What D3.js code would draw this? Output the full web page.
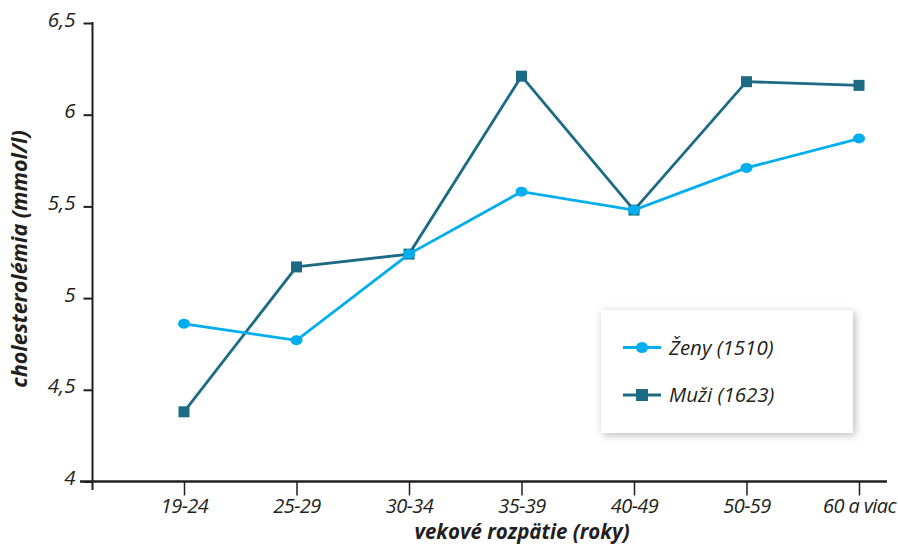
<!DOCTYPE html>
<html><head><meta charset="utf-8">
<script src="https://cdn.jsdelivr.net/npm/d3@7/dist/d3.min.js"></script>
<style>
html,body{margin:0;padding:0;background:#fff;}
text{font-family:"Open Sans",sans-serif;font-style:italic;fill:#231f20;}
</style></head>
<body><svg id="c" width="898" height="544"></svg>
<script>
const categories = ["19-24","25-29","30-34","35-39","40-49","50-59","60 a viac"];
const zeny = [4.86, 4.77, 5.24, 5.58, 5.48, 5.71, 5.87];
const muzi = [4.38, 5.17, 5.24, 6.21, 5.48, 6.18, 6.16];
const yTicks = [4, 4.5, 5, 5.5, 6, 6.5];
const seriesNames = ["Ženy (1510)", "Muži (1623)"];
const colors = ["#00aeef", "#1d6a84"];

const svg = d3.select("#c");
const x = d3.scalePoint().domain(categories).range([184, 859]);
const y = d3.scaleLinear().domain([4, 6.5]).range([481.5, 23]);
const fmt = d => String(d).replace(".", ",");

const defs = svg.append("defs");
const f = defs.append("filter").attr("id","sh").attr("x","-20%").attr("y","-20%").attr("width","140%").attr("height","140%");
f.append("feDropShadow").attr("dx",2).attr("dy",2).attr("stdDeviation",4).attr("flood-color","#000").attr("flood-opacity",0.28);

// y axis
const yAxis = d3.axisLeft(y).tickValues(yTicks).tickFormat(fmt).tickSize(9).tickPadding(8);
const gy = svg.append("g").attr("transform","translate(92.5,0)").call(yAxis);
gy.select(".domain").remove();
gy.selectAll(".tick line").attr("stroke","#231f20").attr("stroke-width",2);
gy.selectAll(".tick text").attr("font-size",20.5).attr("font-family","Open Sans").attr("font-style","italic").attr("fill","#231f20").attr("dy","0.15em");
svg.append("line").attr("x1",92.5).attr("x2",92.5).attr("y1",22).attr("y2",490).attr("stroke","#231f20").attr("stroke-width",2);

// x axis
const xAxis = d3.axisBottom(x).tickSize(14).tickPadding(3);
const gx = svg.append("g").attr("transform","translate(0,481.5)").call(xAxis);
gx.select(".domain").remove();
gx.selectAll(".tick line").attr("stroke","#231f20").attr("stroke-width",1.5);
gx.selectAll(".tick text").attr("font-size",20).attr("letter-spacing","-0.6px").attr("font-family","Open Sans").attr("font-style","italic").attr("fill","#231f20");
svg.append("line").attr("x1",80).attr("x2",887).attr("y1",481.5).attr("y2",481.5).attr("stroke","#231f20").attr("stroke-width",2.5);

// axis titles
svg.append("text").attr("x",522).attr("y",539).attr("text-anchor","middle")
  .attr("font-size",20.5).attr("font-weight","bold").text("vekové rozpätie (roky)");
svg.append("text").attr("transform","translate(27,259) rotate(-90)").attr("text-anchor","middle")
  .attr("font-size",21.5).attr("font-weight","bold").text("cholesterolémia (mmol/l)");

// lines
const line = d3.line().x((d,i)=>x(categories[i])).y(d=>y(d));
svg.append("path").datum(muzi).attr("d",line).attr("fill","none").attr("stroke",colors[1]).attr("stroke-width",2.8);
svg.append("g").selectAll("rect").data(muzi).join("rect")
  .attr("x",(d,i)=>x(categories[i])-5.5).attr("y",d=>y(d)-5.5).attr("width",11).attr("height",11).attr("fill",colors[1]);
svg.append("path").datum(zeny).attr("d",line).attr("fill","none").attr("stroke",colors[0]).attr("stroke-width",2.8);
svg.append("g").selectAll("ellipse").data(zeny).join("ellipse")
  .attr("cx",(d,i)=>x(categories[i])).attr("cy",d=>y(d)).attr("rx",6).attr("ry",5).attr("fill",colors[0]);

// legend
const lg = svg.append("g");
lg.append("rect").attr("x",601).attr("y",310).attr("width",252).attr("height",123).attr("fill","#fff").attr("filter","url(#sh)");
seriesNames.forEach((n,i)=>{
  const yy = 347.5 + i*47.5;
  lg.append("line").attr("x1",623).attr("x2",661).attr("y1",yy).attr("y2",yy).attr("stroke",colors[i]).attr("stroke-width",2.8);
  if(i===0) lg.append("ellipse").attr("cx",642).attr("cy",yy).attr("rx",6).attr("ry",5.5).attr("fill",colors[i]);
  else lg.append("rect").attr("x",636).attr("y",yy-6).attr("width",12).attr("height",12).attr("fill",colors[i]);
  lg.append("text").attr("x",669).attr("y",yy+7).attr("font-size",20.5).text(n);
});
</script></body></html>
